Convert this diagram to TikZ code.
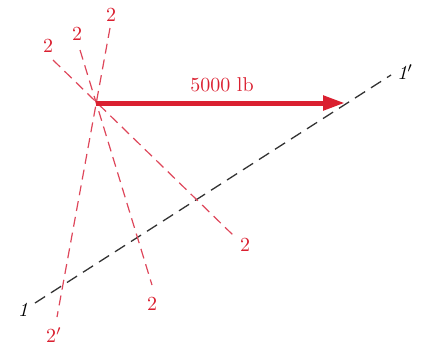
\documentclass[tikz,border=0pt]{standalone}
\usetikzlibrary{arrows.meta}
\definecolor{dodam}{RGB}{218,32,48}
\definecolor{dohong}{RGB}{222,70,90}
\begin{document}
\begin{tikzpicture}[x=0.5pt, y=-0.5pt, >={Triangle[length=11pt, width=7pt]},
    netden/.style={dash pattern=on 6pt off 3.5pt, line width=0.65pt, black!80},
    netdo/.style={dash pattern=on 5pt off 3pt, line width=0.6pt, dohong},
    nhando/.style={dodam, inner sep=1pt},
    nhanden/.style={black, inner sep=1pt}]
    % 1. Khung hình
    \useasboundingbox (0, 0) rectangle (422, 349);

    % 2. Các điểm
    \coordinate (A) at (96, 103);
    \coordinate (M1) at (35, 303);
    \coordinate (M1p) at (391, 75);
    \coordinate (B) at (345, 103);
    \coordinate (T2a) at (110, 28);
    \coordinate (D2a) at (57, 317);
    \coordinate (T2b) at (80, 50);
    \coordinate (D2b) at (152, 285);
    \coordinate (T2c) at (53, 60);
    \coordinate (D2c) at (233, 235);

    % 3. Đường 1-1' nét đứt màu đen
    \draw[netden] (M1) -- (M1p);

    % 4. Các đường 2 nét đứt màu đỏ
    \draw[netdo] (T2a) -- (D2a);
    \draw[netdo] (T2b) -- (D2b);
    \draw[netdo] (T2c) -- (D2c);

    % 5. Lực 5000 lb
    \draw[->, line width=2.5pt, dodam] (A) -- (B);
    \node[nhando] (luc) at (222, 85) {5000 lb};

    % 6. Nhãn
    \node[nhanden] (n1) at (23, 310) {\textit{1}};
    \node[nhanden] (n1p) at (405, 72) {\textit{1}$'$};
    \node[nhando] (n2a) at (111, 15) {2};
    \node[nhando] (n2b) at (77, 34) {2};
    \node[nhando] (n2c) at (48, 46) {2};
    \node[nhando] (n2d) at (152, 304) {2};
    \node[nhando] (n2e) at (245, 245) {2};
    \node[nhando] (n2p) at (54, 335) {2$'$};
\end{tikzpicture}
\end{document}
